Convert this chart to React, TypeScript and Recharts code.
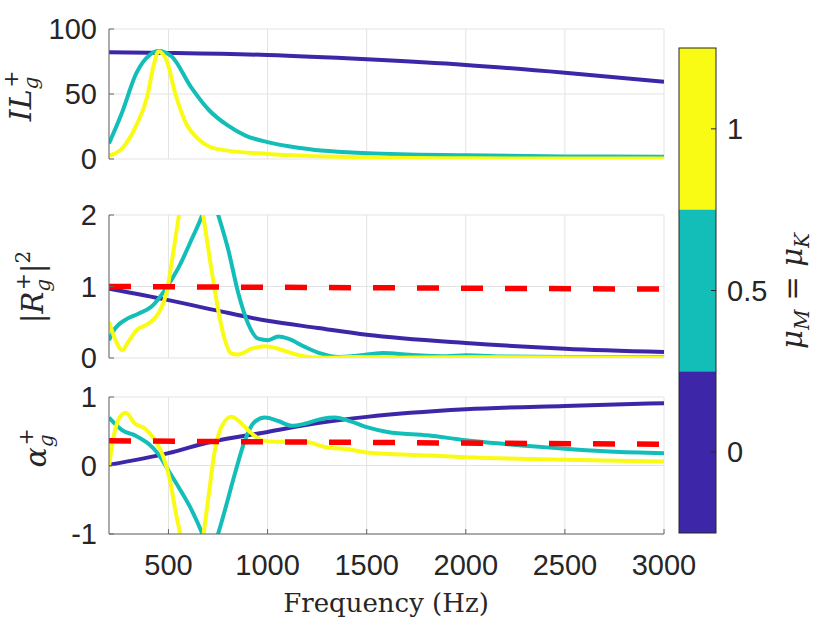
import { CartesianGrid, Line, LineChart, XAxis, YAxis } from 'recharts';

// parula(3) colours + red reference
const BLUE = '#3E26A8';
const TEAL = '#13BEB8';
const YELLOW = '#F9FB15';
const RED = '#FF0000';
const GRID = '#e3e3e3';
const AXIS = '#666666';
const INK = '#262626';

const FREQ_TICKS = [500, 1000, 1500, 2000, 2500, 3000];
const IL_TICKS = [0, 50, 100];
const R_TICKS = [0, 1, 2];
const ALPHA_TICKS = [-1, 0, 1];
const CBAR_TICKS = ['1', '0.5', '0'];

// [frequency Hz, value]
const ilBlue = [[200, 82.2], [500, 81.6], [1000, 80], [1500, 76.7], [2000, 72.4], [2500, 66.4], [3000, 59.4]];
const ilTeal = [[200, 12], [264, 35], [338, 66], [405, 80], [450, 83], [515, 79], [613, 55.5], [705, 37.5], [797, 26], [889, 18], [999, 13], [1164, 8.5], [1504, 4.4], [2003, 2.8], [2504, 2], [3000, 1.8]];
const ilYellow = [[200, 2.6], [264, 7.8], [338, 26], [393, 48], [425, 72], [450, 82.7], [490, 76], [535, 50], [590, 27], [650, 15.5], [742, 7.8], [999, 3.9], [1504, 1.3], [2003, 0.5], [3000, 0.3]];

const rBlue = [[200, 0.97], [500, 0.81], [735, 0.67], [1000, 0.52], [1254, 0.42], [1500, 0.326], [2000, 0.21], [2500, 0.13], [3000, 0.084]];
const rTeal = [[200, 0.25], [230, 0.41], [280, 0.53], [348, 0.62], [415, 0.72], [482, 0.95], [550, 1.26], [617, 1.66], [670, 2.0], [710, 2.35], [751, 2.0], [801, 1.52], [852, 0.91], [902, 0.48], [953, 0.27], [1003, 0.25], [1054, 0.3], [1104, 0.27], [1188, 0.155], [1272, 0.06], [1356, 0.014], [1450, 0.03], [1580, 0.07], [1715, 0.046], [1900, 0.023], [2000, 0.037], [2200, 0.02], [2500, 0.014], [3000, 0.01]];
const rYellow = [[200, 0.51], [230, 0.27], [267, 0.11], [297, 0.225], [339, 0.39], [398, 0.48], [448, 0.62], [490, 0.91], [524, 1.47], [553, 2.0], [615, 3.2], [675, 2.0], [709, 1.38], [751, 0.67], [785, 0.25], [818, 0.06], [852, 0.05], [919, 0.13], [986, 0.165], [1054, 0.13], [1121, 0.07], [1188, 0.023], [1272, 0.003], [1440, 0.014], [1600, 0.005], [2000, 0.01], [3000, 0.005]];
const rRef = [[200, 1.0], [3000, 0.963]];

const aBlue = [[200, 0.01], [500, 0.18], [705, 0.34], [1000, 0.49], [1254, 0.62], [1500, 0.71], [2000, 0.82], [2500, 0.87], [3000, 0.91]];
const aTeal = [[200, 0.7], [230, 0.61], [264, 0.52], [331, 0.44], [398, 0.32], [448, 0.17], [499, -0.07], [550, -0.31], [617, -0.65], [670, -0.99], [710, -1.3], [751, -0.99], [785, -0.65], [835, -0.12], [886, 0.37], [936, 0.64], [986, 0.7], [1054, 0.65], [1121, 0.58], [1188, 0.61], [1272, 0.68], [1339, 0.7], [1423, 0.64], [1500, 0.56], [1605, 0.49], [1807, 0.44], [2000, 0.37], [2174, 0.32], [2500, 0.245], [2725, 0.205], [3000, 0.18]];
const aYellow = [[200, -0.01], [230, 0.51], [255, 0.71], [284, 0.77], [331, 0.61], [381, 0.54], [432, 0.37], [474, 0.13], [507, -0.21], [541, -0.75], [558, -0.99], [615, -3], [678, -0.99], [700, -0.5], [734, 0.22], [776, 0.61], [818, 0.71], [869, 0.61], [919, 0.47], [970, 0.37], [1037, 0.345], [1121, 0.345], [1188, 0.345], [1289, 0.27], [1423, 0.23], [1500, 0.19], [1807, 0.147], [2000, 0.122], [2500, 0.083], [3000, 0.059]];
const aRef = [[200, 0.36], [3000, 0.31]];

const toPts = (rows: number[][]) => rows.map(([f, v]) => ({ f, v }));

const SANS = "'Liberation Sans', Arial, Helvetica, sans-serif";
const SERIF = "'DejaVu Serif', 'Liberation Serif', serif";

interface SeriesDef {
  rows: number[][];
  color: string;
  width: number;
  dash?: string;
}

interface PanelProps {
  top: number;
  height: number;
  marginTop: number;
  marginBottom: number;
  domain: [number, number];
  yTicks: number[];
  series: SeriesDef[];
  showXLabels?: boolean;
}

function Panel({ top, height, marginTop, marginBottom, domain, yTicks, series, showXLabels = false }: PanelProps) {
  const xTick = (p: any) => (
    <g>
      <line x1={p.x} y1={p.y} x2={p.x} y2={p.y - 5} stroke={AXIS} />
      {showXLabels && (
        <text x={p.x} y={p.y + 31} dy="0.35em" textAnchor="middle" fontFamily={SANS} fontSize={29} fill={INK}>
          {p.payload.value}
        </text>
      )}
    </g>
  );
  const yTick = (p: any) => (
    <g>
      <line x1={p.x} y1={p.y} x2={p.x + 5} y2={p.y} stroke={AXIS} />
      <text x={p.x - 12} y={p.y} dy="0.35em" textAnchor="end" fontFamily={SANS} fontSize={29} fill={INK}>
        {p.payload.value}
      </text>
    </g>
  );
  return (
    <div style={{ position: 'absolute', left: 0, top, width: 830, height }}>
      <LineChart width={830} height={height} margin={{ top: marginTop, right: 166, bottom: marginBottom, left: 49 }}>
        <CartesianGrid stroke={GRID} />
        <XAxis
          type="number"
          dataKey="f"
          domain={[200, 3000]}
          ticks={FREQ_TICKS}
          interval={0}
          allowDataOverflow
          height={showXLabels ? 60 : 0}
          tickSize={0}
          tickMargin={0}
          tickLine={false}
          stroke={AXIS}
          tick={xTick}
        />
        <YAxis
          type="number"
          domain={domain}
          ticks={yTicks}
          interval={0}
          allowDataOverflow
          width={60}
          tickSize={0}
          tickMargin={0}
          tickLine={false}
          stroke={AXIS}
          tick={yTick}
        />
        {series.map((s, i) => (
          <Line
            key={i}
            data={toPts(s.rows)}
            dataKey="v"
            type="monotone"
            stroke={s.color}
            strokeWidth={s.width}
            strokeDasharray={s.dash}
            dot={false}
            activeDot={false}
            isAnimationActive={false}
          />
        ))}
      </LineChart>
    </div>
  );
}

function Overlay() {
  const cbX = 679;
  const cbW = 37;
  const cbTop = 48;
  const cbH = 485;
  const seg = cbH / 3;
  const cbColors = [YELLOW, TEAL, BLUE];
  return (
    <svg width={830} height={623} style={{ position: 'absolute', left: 0, top: 0, pointerEvents: 'none' }}>
      {/* y labels */}
      <text transform="translate(31,96) rotate(-90)" textAnchor="middle" fontFamily={SERIF} fontStyle="italic" fontSize={30} fill={INK}>
        IL<tspan fontSize={20} dy={7}>g</tspan>
        <tspan fontSize={20} dx={-11} dy={-20} fontStyle="normal">+</tspan>
      </text>
      <text transform="translate(43,287) rotate(-90)" textAnchor="middle" fontFamily={SERIF} fontSize={29} fill={INK}>
        |<tspan fontStyle="italic">R</tspan>
        <tspan fontSize={20} dy={7} fontStyle="italic">g</tspan>
        <tspan fontSize={20} dx={-11} dy={-20}>+</tspan>
        <tspan dy={13}>|</tspan>
        <tspan fontSize={20} dy={-13}>2</tspan>
      </text>
      <text transform="translate(46,448) rotate(-90)" textAnchor="middle" fontFamily={SERIF} fontStyle="italic" fontSize={30} fill={INK}>
        α<tspan fontSize={20} dy={7}>g</tspan>
        <tspan fontSize={20} dx={-11} dy={-20} fontStyle="normal">+</tspan>
      </text>
      {/* x label */}
      <text x={386} y={603} dy="0.35em" textAnchor="middle" fontFamily={SERIF} fontSize={26} fill={INK}>
        Frequency (Hz)
      </text>
      {/* colorbar */}
      {cbColors.map((c, i) => (
        <rect key={c} x={cbX} y={cbTop + i * seg} width={cbW} height={seg} fill={c} />
      ))}
      <rect x={cbX} y={cbTop} width={cbW} height={cbH} fill="none" stroke={INK} strokeWidth={1} />
      {CBAR_TICKS.map((t, i) => {
        const y = cbTop + seg * (i + 0.5);
        return (
          <g key={t}>
            <line x1={cbX + cbW} y1={y} x2={cbX + cbW - 5} y2={y} stroke={INK} />
            <text x={727} y={y} dy="0.35em" fontFamily={SANS} fontSize={29} fill={INK}>
              {t}
            </text>
          </g>
        );
      })}
      <text transform="translate(802,291) rotate(-90)" textAnchor="middle" fontFamily={SERIF} fontSize={29} fill={INK}>
        <tspan fontStyle="italic">μ</tspan>
        <tspan fontSize={20} dy={7} fontStyle="italic">M</tspan>
        <tspan dy={-7}> = </tspan>
        <tspan fontStyle="italic">μ</tspan>
        <tspan fontSize={20} dy={7} fontStyle="italic">K</tspan>
      </text>
    </svg>
  );
}

export default function App() {
  return (
    <div style={{ position: 'absolute', left: 0, top: 0, width: 830, height: 623, background: '#fff' }}>
      <Panel
        top={0}
        height={185}
        marginTop={29}
        marginBottom={26}
        domain={[0, 100]}
        yTicks={IL_TICKS}
        series={[
          { rows: ilBlue, color: BLUE, width: 4 },
          { rows: ilTeal, color: TEAL, width: 4 },
          { rows: ilYellow, color: YELLOW, width: 4 },
        ]}
      />
      <Panel
        top={180}
        height={200}
        marginTop={35}
        marginBottom={22}
        domain={[0, 2]}
        yTicks={R_TICKS}
        series={[
          { rows: rBlue, color: BLUE, width: 4 },
          { rows: rTeal, color: TEAL, width: 4 },
          { rows: rYellow, color: YELLOW, width: 4 },
          { rows: rRef, color: RED, width: 5.5, dash: '22 22' },
        ]}
      />
      <Panel
        top={370}
        height={253}
        marginTop={27}
        marginBottom={29}
        domain={[-1, 1]}
        yTicks={ALPHA_TICKS}
        showXLabels
        series={[
          { rows: aBlue, color: BLUE, width: 4 },
          { rows: aTeal, color: TEAL, width: 4 },
          { rows: aYellow, color: YELLOW, width: 4 },
          { rows: aRef, color: RED, width: 5.5, dash: '22 22' },
        ]}
      />
      <Overlay />
    </div>
  );
}
